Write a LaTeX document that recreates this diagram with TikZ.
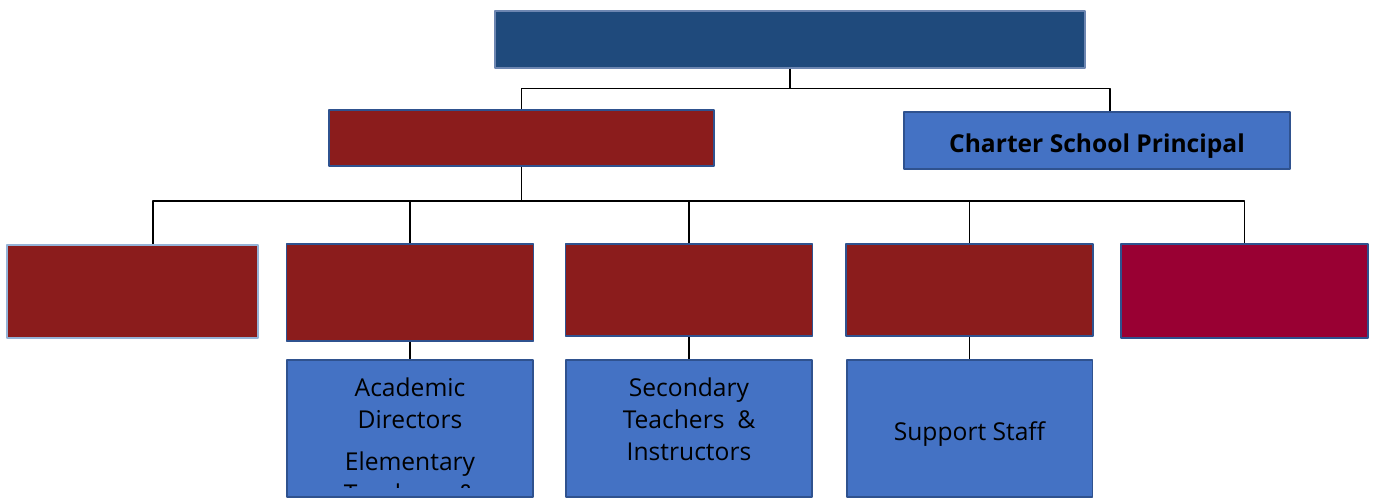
\documentclass[tikz,border=0pt]{standalone}
\usepackage{fontspec}
\setmainfont{Open Sans}
\definecolor{topblue}{HTML}{1F4A7C}
\definecolor{darkred}{HTML}{8B1C1C}
\definecolor{wine}{HTML}{990033}
\definecolor{midblue}{HTML}{4472C4}
\definecolor{bordblue}{HTML}{2F528F}
\definecolor{paleblue}{HTML}{95B3D7}
\begin{document}
\begin{tikzpicture}[x=0.02cm, y=-0.02cm, line join=round,
    box/.style={draw=bordblue, line width=1.1pt, inner sep=0pt},
    redbox/.style={box, fill=darkred, minimum width=4.94cm, minimum height=1.84cm},
    staffbox/.style={box, fill=midblue, minimum width=4.92cm, minimum height=2.74cm},
    txt/.style={align=center, font=\fontsize{14}{18}\selectfont},
    lowtxt/.style={text height=14pt, text depth=0pt},
    link/.style={black, line width=0.8pt}]
    \useasboundingbox (0,0) rectangle (1376,500);
    % top levels
    \node[box, draw=bordblue!70!white, line width=0.8pt, fill=topblue,
        minimum width=11.8cm, minimum height=1.14cm] (board) at (790,39.5) {};
    \node[box, fill=darkred, minimum width=7.7cm, minimum height=1.12cm] (exec) at (521.5,138) {};
    \node[box, fill=midblue, minimum width=7.72cm, minimum height=1.14cm, lowtxt,
        font=\fontsize{14}{17}\selectfont\bfseries] (prin) at (1097,140.5) {Charter School Principal};
    % departments
    \node[redbox, draw=paleblue, line width=0.6pt, minimum width=5.02cm, minimum height=1.86cm] (ra) at (132.5,291.5) {};
    \node[redbox, minimum height=1.94cm] (rb) at (410,292.5) {};
    \node[redbox] (rc) at (689,290) {};
    \node[redbox] (rd) at (969.5,290) {};
    \node[redbox, fill=wine, minimum height=1.88cm] (re) at (1244.5,291) {};
    % staff
    \node[staffbox] (sb) at (410,428.5) {};
    \node[staffbox] (sc) at (689,428.5) {};
    \node[staffbox, txt, lowtxt] (sd) at (969.5,428.5) {Support Staff};
    \begin{scope}
        \clip (290,363) rectangle (530,487);
        \node[txt, anchor=north] (sbtxt) at (410,372) {Academic\\Directors\\[6pt]Elementary\\Teachers~~\&};
    \end{scope}
    \node[txt, anchor=north] (sctxt) at (689,372) {Secondary\\Teachers~~\&\\Instructors};
    % connectors
    \draw[link] (board.south) -- ++(0,20) coordinate (j1) -| (exec.north);
    \draw[link] (j1) -| ([xshift=0.26cm]prin.north);
    \draw[link] (exec.south) -- ++(0,34) coordinate (j2);
    \draw[link] (j2) -| ([xshift=0.41cm]ra.north);
    \foreach \n in {rb,rc,rd,re}
        \draw[link] (j2) -| (\n.north);
    \foreach \n in {b,c,d}
        \draw[link] (r\n.south) -- (s\n.north);
\end{tikzpicture}
\end{document}
